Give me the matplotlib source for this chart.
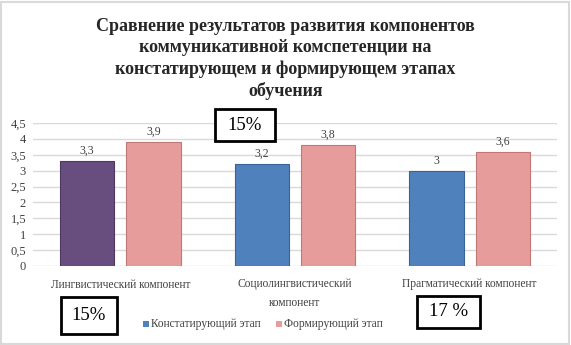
import numpy as np
import matplotlib.pyplot as plt
import matplotlib
from matplotlib.patches import Rectangle

params = {'font.family': ['Liberation Serif', 'DejaVu Serif']}
matplotlib.rcParams.update(params)

categories = ["Лингвистический компонент", "Социолингвистический\nкомпонент",
              "Прагматический компонент"]
stage1 = [3.3, 3.2, 3.0]
stage2 = [3.9, 3.8, 3.6]
stage1_labels = ["3,3", "3,2", "3"]
stage2_labels = ["3,9", "3,8", "3,6"]
yticks = [0, 0.5, 1, 1.5, 2, 2.5, 3, 3.5, 4, 4.5]
ytick_labels = ["0", "0,5", "1", "1,5", "2", "2,5", "3", "3,5", "4", "4,5"]
series_names = ["Констатирующий этап", "Формирующий этап"]
box_texts = ["15%", "15%", "17 %"]

W, H = 571, 345
fig = plt.figure(figsize=(W/100, H/100), dpi=100)
ax = fig.add_axes([33/W, 1-266/H, 524/W, 143/H])

xx = np.arange(len(categories))
bw, off = 0.31, 0.19
c1 = ['#674E7F', '#4F81BD', '#4F81BD']
c1e = ['#4B3960', '#3A6395', '#3A6395']
b1 = ax.bar(xx-off, stage1, bw, color=c1, edgecolor=c1e, lw=0.8, zorder=3)
b2 = ax.bar(xx+off, stage2, bw, color='#E69C9B', edgecolor='#C07876', lw=0.8, zorder=3)

for i in range(len(xx)):
    ax.text(xx[i]-off, stage1[i]+0.13, stage1_labels[i], ha='center', va='bottom',
            fontsize=8.5, color='#404040')
    ax.text(xx[i]+off, stage2[i]+0.13, stage2_labels[i], ha='center', va='bottom',
            fontsize=8.5, color='#404040')

ax.set_xlim(-0.5, 2.5)
ax.set_ylim(0, 4.5)
ax.set_yticks(yticks)
ax.set_yticklabels(ytick_labels, fontsize=9, color='#404040')
ax.set_xticks(xx)
ax.set_xticklabels(categories, fontsize=8.3, color='#404040', linespacing=1.7)
ax.tick_params(length=0, pad=5)
ax.tick_params(axis='x', pad=9)
ax.grid(axis='y', color='#D9D9D9', lw=1, zorder=0)
for s in ax.spines.values():
    s.set_visible(False)

fig.text(0.5, 1-59/H, "Сравнение результатов развития компонентов\n"
         "коммуникативной комспетенции на\nконстатирующем и формирующем этапах\nобучения",
         ha='center', va='center', fontsize=13, fontweight='bold', color='#262626',
         linespacing=1.3, transform=fig.transFigure)

# boxes with percentages
for (x0, y0, w, h), t in zip([(215, 109, 60, 32), (61, 297, 56, 37), (417, 296, 63, 32)], box_texts):
    fig.patches.append(Rectangle((x0/W, 1-(y0+h)/H), w/W, h/H, transform=fig.transFigure,
                                 facecolor='white', edgecolor='black', lw=2, zorder=5))
    fig.text((x0+w/2)/W, 1-(y0+h/2)/H, t, ha='center', va='center', fontsize=13.5, zorder=6)

# legend
for (lx, name, col) in [(143, series_names[0], '#4F81BD'), (276, series_names[1], '#E69C9B')]:
    fig.patches.append(Rectangle((lx/W, 1-327/H), 6/W, 6/H, transform=fig.transFigure,
                                 facecolor=col, edgecolor='none'))
    fig.text((lx+8)/W, 1-324/H, name, ha='left', va='center', fontsize=8.3, color='#404040',
             family=['Liberation Serif', 'DejaVu Serif'])

fig.patches.append(Rectangle((1/W, 1/H), (W-3)/W, (H-3)/H, transform=fig.transFigure,
                             facecolor='none', edgecolor='#D9D9D9', lw=1.5))

fig.savefig("out.png", dpi=100)
